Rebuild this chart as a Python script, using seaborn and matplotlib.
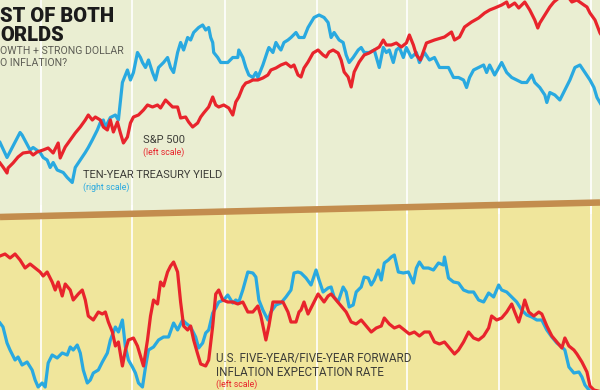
import matplotlib
matplotlib.use("Agg")
import matplotlib.pyplot as plt
import matplotlib.dates as mdates
from matplotlib.lines import Line2D
from matplotlib.patches import Polygon
import numpy as np
import pandas as pd
import seaborn as sns

# ---- data (days counted from 2013-02-19) ----
START = pd.Timestamp("2013-02-19")

# S&P 500 (left scale, top panel)
sp_days = [0, 3, 7, 8, 13, 18, 23, 30, 33, 37, 43, 48, 53, 58, 60, 65, 70, 75, 80, 85,
           88, 92, 95, 100, 103, 107, 110, 113, 117, 120, 123, 127, 130, 133, 138, 143, 147, 152, 157, 160,
           165, 168, 172, 177, 180, 185, 188, 192, 197, 200, 203, 208, 212, 215, 218, 223, 228, 232, 235, 238,
           242, 245, 248, 252, 257, 262, 267, 270, 275, 280, 285, 290, 293, 297, 300, 303, 307, 312, 317, 322,
           325, 328, 332, 337, 340, 343, 347, 350, 353, 358, 363, 368, 373, 378, 382, 385, 390, 395, 400, 405,
           408, 412, 415, 419, 425, 433, 443, 450, 453, 458, 463, 470, 477, 483, 488, 493, 500, 505, 507, 513,
           517, 523, 528, 533, 536, 538, 543, 548, 552, 557, 562, 567, 570, 575, 582, 585, 588, 593, 598, 600]
sp500 = [1511, 1499, 1481, 1496, 1511, 1529, 1541, 1544, 1535, 1544, 1550, 1556, 1541, 1571, 1526, 1559, 1580, 1601, 1619, 1640,
         1655, 1640, 1649, 1640, 1619, 1610, 1640, 1604, 1634, 1601, 1571, 1589, 1631, 1649, 1655, 1670, 1685, 1679, 1685, 1676,
         1700, 1691, 1679, 1679, 1646, 1649, 1634, 1619, 1631, 1649, 1661, 1679, 1709, 1685, 1679, 1685, 1676, 1655, 1694, 1709,
         1739, 1751, 1754, 1760, 1760, 1766, 1775, 1790, 1796, 1805, 1811, 1799, 1805, 1775, 1769, 1796, 1814, 1841, 1850, 1835,
         1829, 1844, 1850, 1841, 1820, 1784, 1769, 1739, 1784, 1814, 1835, 1841, 1850, 1859, 1880, 1865, 1865, 1871, 1859, 1871,
         1895, 1865, 1835, 1820, 1871, 1880, 1889, 1904, 1880, 1889, 1919, 1934, 1946, 1961, 1970, 1976, 1985, 1994, 1979, 1991,
         1976, 1994, 1970, 1940, 1916, 1931, 1955, 1979, 1994, 2006, 2012, 2006, 1994, 2000, 1985, 1979, 1961, 1940, 1901, 1892]

# ten-year treasury yield, % (right scale, top panel)
ty_days = [0, 7, 20, 22, 30, 33, 40, 43, 47, 50, 53, 57, 63, 67, 72, 75, 80, 85, 88, 92,
           97, 100, 103, 105, 110, 115, 118, 122, 127, 130, 133, 137, 140, 142, 145, 148, 152, 155, 158, 163,
           167, 170, 173, 177, 180, 183, 187, 190, 193, 198, 202, 205, 208, 210, 212, 213, 217, 220, 227, 232,
           237, 238, 242, 245, 248, 252, 255, 257, 262, 267, 268, 272, 275, 278, 280, 283, 287, 290, 295, 298,
           303, 307, 313, 318, 323, 327, 330, 333, 338, 342, 345, 348, 352, 357, 360, 363, 368, 373, 378, 382,
           385, 388, 392, 395, 398, 402, 405, 410, 415, 418, 423, 428, 433, 438, 442, 447, 452, 457, 462, 465,
           468, 472, 477, 482, 485, 488, 493, 500, 505, 510, 515, 520, 525, 530, 533, 538, 543, 545, 548, 553,
           558, 563, 568, 573, 578, 583, 588, 592, 595, 598, 600]
treasury = [1.96, 1.84, 2.04, 2.02, 1.90, 1.92, 1.88, 1.84, 1.82, 1.76, 1.80, 1.74, 1.72, 1.68, 1.64, 1.76, 1.82, 1.88, 1.92, 1.98,
            2.06, 2.12, 2.14, 2.08, 2.16, 2.18, 2.14, 2.44, 2.54, 2.46, 2.52, 2.68, 2.64, 2.60, 2.56, 2.62, 2.52, 2.46, 2.56, 2.60,
            2.64, 2.56, 2.52, 2.68, 2.76, 2.70, 2.80, 2.78, 2.84, 2.88, 2.90, 2.86, 2.88, 2.80, 2.76, 2.68, 2.64, 2.60, 2.60, 2.64,
            2.64, 2.70, 2.64, 2.56, 2.50, 2.48, 2.52, 2.48, 2.58, 2.70, 2.72, 2.68, 2.76, 2.72, 2.70, 2.76, 2.78, 2.80, 2.84, 2.80,
            2.80, 2.88, 2.96, 2.98, 2.96, 2.92, 2.80, 2.84, 2.78, 2.76, 2.66, 2.60, 2.64, 2.70, 2.72, 2.68, 2.68, 2.70, 2.56, 2.72,
            2.68, 2.70, 2.60, 2.70, 2.72, 2.64, 2.72, 2.64, 2.68, 2.60, 2.68, 2.62, 2.64, 2.56, 2.56, 2.56, 2.48, 2.48, 2.46, 2.40,
            2.48, 2.54, 2.56, 2.58, 2.52, 2.58, 2.50, 2.60, 2.52, 2.48, 2.46, 2.44, 2.44, 2.50, 2.44, 2.40, 2.34, 2.28, 2.36, 2.34,
            2.30, 2.38, 2.46, 2.56, 2.58, 2.52, 2.46, 2.40, 2.32, 2.28, 2.25]

# U.S. 5y/5y forward inflation expectation rate, % (left scale, bottom panel)
inf_days = [0, 5, 10, 15, 20, 25, 30, 35, 40, 43, 47, 52, 55, 58, 62, 65, 70, 73, 78, 82,
            85, 88, 93, 98, 102, 105, 108, 112, 115, 118, 122, 125, 128, 133, 137, 140, 143, 147, 150, 153,
            157, 160, 163, 167, 170, 173, 177, 180, 183, 187, 190, 193, 197, 200, 205, 208, 212, 215, 218, 222,
            227, 232, 237, 242, 247, 252, 257, 260, 265, 268, 272, 277, 282, 287, 290, 295, 298, 300, 303, 307,
            312, 317, 320, 323, 327, 330, 335, 340, 345, 350, 355, 360, 365, 370, 375, 380, 383, 388, 393, 398,
            403, 408, 413, 418, 423, 428, 433, 438, 443, 448, 453, 457, 462, 467, 472, 477, 482, 487, 490, 495,
            500, 505, 510, 513, 517, 520, 523, 527, 532, 537, 540, 545, 550, 555, 560, 563, 567, 572, 575, 580,
            585, 588, 592, 600]
inflation = [2.82, 2.83, 2.81, 2.83, 2.80, 2.76, 2.78, 2.76, 2.74, 2.72, 2.74, 2.69, 2.65, 2.69, 2.62, 2.68, 2.65, 2.60, 2.63, 2.65,
             2.60, 2.52, 2.50, 2.54, 2.53, 2.54, 2.49, 2.44, 2.37, 2.39, 2.27, 2.35, 2.40, 2.41, 2.37, 2.32, 2.27, 2.40, 2.52, 2.60,
             2.58, 2.69, 2.67, 2.74, 2.77, 2.79, 2.74, 2.59, 2.47, 2.45, 2.47, 2.40, 2.33, 2.28, 2.27, 2.30, 2.47, 2.63, 2.65, 2.60,
             2.59, 2.59, 2.58, 2.59, 2.54, 2.54, 2.57, 2.52, 2.40, 2.47, 2.59, 2.59, 2.59, 2.54, 2.49, 2.49, 2.54, 2.55, 2.59, 2.53,
             2.58, 2.63, 2.61, 2.59, 2.62, 2.63, 2.60, 2.57, 2.54, 2.49, 2.48, 2.50, 2.47, 2.44, 2.46, 2.47, 2.51, 2.48, 2.46, 2.47,
             2.45, 2.43, 2.44, 2.42, 2.44, 2.44, 2.39, 2.38, 2.39, 2.36, 2.33, 2.35, 2.39, 2.44, 2.41, 2.40, 2.42, 2.46, 2.52, 2.50,
             2.51, 2.54, 2.58, 2.54, 2.49, 2.54, 2.60, 2.54, 2.52, 2.54, 2.53, 2.47, 2.42, 2.39, 2.36, 2.41, 2.37, 2.35, 2.33, 2.29,
             2.24, 2.17, 2.15, 2.14]

# second bottom-panel series, index (right scale)
idx_days = [0, 3, 7, 10, 15, 18, 22, 27, 32, 35, 38, 42, 45, 48, 52, 57, 62, 67, 70, 73,
            77, 80, 83, 87, 90, 93, 98, 102, 107, 110, 115, 118, 122, 125, 128, 132, 135, 138, 142, 145,
            148, 153, 158, 163, 168, 173, 177, 182, 185, 190, 195, 198, 202, 205, 208, 212, 215, 218, 223, 227,
            232, 235, 238, 242, 247, 252, 255, 258, 262, 267, 270, 275, 280, 285, 290, 293, 297, 300, 305, 310,
            315, 318, 322, 327, 330, 333, 337, 342, 345, 348, 352, 355, 360, 363, 367, 370, 373, 377, 380, 383,
            387, 390, 393, 397, 402, 407, 412, 415, 418, 422, 427, 432, 437, 442, 443, 447, 452, 457, 462, 467,
            472, 477, 482, 487, 492, 497, 500, 505, 510, 515, 520, 525, 530, 535, 540, 545, 550, 555, 560, 563,
            567, 572, 577, 580, 583, 587, 592, 600]
index_b = [177, 173, 157, 150, 140, 143, 135, 138, 130, 120, 113, 117, 113, 137, 145, 142, 147, 145, 153, 150,
           155, 147, 130, 117, 120, 127, 130, 138, 147, 160, 173, 168, 180, 153, 140, 133, 127, 117, 113, 133,
           150, 153, 160, 163, 163, 177, 170, 180, 177, 173, 163, 152, 157, 167, 170, 187, 192, 198, 200, 205,
           197, 200, 198, 210, 228, 227, 223, 200, 190, 180, 188, 195, 197, 203, 210, 227, 228, 227, 222, 215,
           230, 220, 208, 212, 213, 203, 198, 213, 208, 193, 195, 208, 213, 223, 222, 215, 220, 230, 220, 237,
           240, 243, 245, 228, 227, 228, 217, 232, 238, 232, 232, 230, 237, 235, 243, 222, 218, 217, 210, 208,
           208, 200, 198, 207, 203, 215, 210, 208, 203, 198, 190, 185, 183, 180, 180, 170, 163, 157, 153, 150,
           133, 127, 128, 123, 115, 110, 105, 102]

RED = "#e8242c"
BLUE = "#29a9e0"
TOP_BG = "#eaeed2"
BOT_BG = "#f0e69c"
BAND = "#c38d4e"


def to_frame(days, values):
    return pd.DataFrame({"date": START + pd.to_timedelta(days, unit="D"),
                         "value": values})


W, H = 600, 390
fig = plt.figure(figsize=(6, 3.9), dpi=100, facecolor=BOT_BG)

# top panel background above the slanted rule
fig.add_artist(Polygon([(0, 1), (1, 1), (1, 1 - 200 / H), (0, 1 - 214 / H)],
                       closed=True, transform=fig.transFigure,
                       facecolor=TOP_BG, edgecolor="none", zorder=-5))

ax_top = fig.add_axes([0, 1 - 214 / H, 1, 214 / H])
ax_bot = fig.add_axes([0, 0, 1, 185 / H])

xmin, xmax = START, START + pd.Timedelta(days=598)

# (axes, left-scale series, right-scale series, left ylim, right ylim)
panels = [
    (ax_top, to_frame(sp_days, sp500), to_frame(ty_days, treasury),
     (1358, 2000), (1.388, 3.1)),
    (ax_bot, to_frame(inf_days, inflation), to_frame(idx_days, index_b),
     (2.15, 3.075), (110, 295)),
]

for ax, red_df, blue_df, lim_l, lim_r in panels:
    ax.set_facecolor("none")
    # blue series on the base axes, red on the twin so it sits on top
    tw = ax.twinx()
    sns.lineplot(data=blue_df, x="date", y="value", ax=ax, color=BLUE,
                 linewidth=2.3, solid_joinstyle="round")
    sns.lineplot(data=red_df, x="date", y="value", ax=tw, color=RED,
                 linewidth=2.3, solid_joinstyle="round")
    ax.set_ylim(*lim_r)
    tw.set_ylim(*lim_l)
    ax.set_xlim(xmin, xmax)
    ax.xaxis.set_major_locator(mdates.MonthLocator(bymonth=(1, 4, 7, 10)))
    for a in (ax, tw):
        a.set_xlabel("")
        a.set_ylabel("")
        a.tick_params(length=0, labelbottom=False, labelleft=False,
                      labelright=False)
        a.set_yticks([])
        for s in a.spines.values():
            s.set_visible(False)
    ax.grid(axis="x", color="white", linewidth=1.4, alpha=0.85)
    ax.set_axisbelow(True)

# slanted brown rule between the panels
fig.add_artist(Line2D([0, 1], [1 - 217 / H, 1 - 202.5 / H],
                      transform=fig.transFigure, color=BAND,
                      linewidth=4.7, solid_capstyle="butt", zorder=10))


def ftext(x, y, s, **kw):
    fig.text(x / W, 1 - y / H, s, va="baseline", zorder=20, **kw)


# headline and deck, as far as they show in the crop
ftext(0, 22, "ST OF BOTH", fontsize=14.5, fontweight="heavy",
      family="Roboto", color="#1b1b1b")
ftext(0, 41, "ORLDS", fontsize=14.5, fontweight="heavy",
      family="Roboto", color="#1b1b1b")
ftext(0, 54, "OWTH + STRONG DOLLAR", fontsize=7.6,
      family="Roboto", color="#5d5d55")
ftext(0, 66, "O INFLATION?", fontsize=7.6,
      family="Roboto", color="#5d5d55")

# series labels
ftext(143, 143, "S&P 500", fontsize=8, family="Roboto", color="#3d3d38")
ftext(143, 155, "(left scale)", fontsize=6.3, family="Roboto", color=RED)
ftext(83, 178, "TEN-YEAR TREASURY YIELD", fontsize=8, family="Roboto",
      color="#3d3d38")
ftext(83, 190, "(right scale)", fontsize=6.3, family="Roboto", color=BLUE)
ftext(216, 362, "U.S. FIVE-YEAR/FIVE-YEAR FORWARD", fontsize=8.4,
      family="Roboto", color="#3d3d38")
ftext(216, 376, "INFLATION EXPECTATION RATE", fontsize=8.4,
      family="Roboto", color="#3d3d38")
ftext(216, 387, "(left scale)", fontsize=6.3, family="Roboto", color=RED)

fig.savefig("out.png", dpi=100, facecolor=fig.get_facecolor())
